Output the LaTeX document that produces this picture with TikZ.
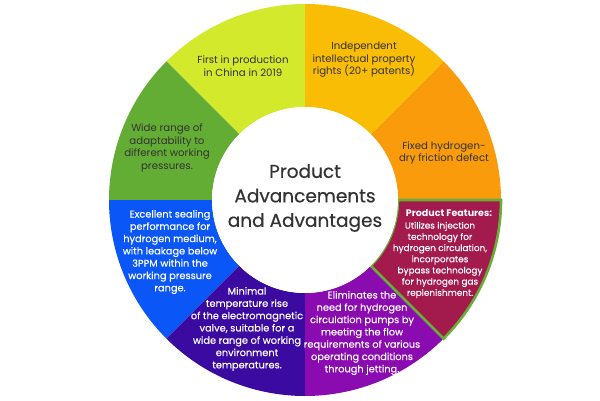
\documentclass[tikz,border=0pt]{standalone}
\usepackage{fontspec}
\setmainfont{Poppins}
\newfontfamily\medfont[FakeBold=0.5]{Poppins}
\newfontfamily\semifont[FakeBold=0.35]{Poppins}
\definecolor{cYG}{HTML}{D3E92C}
\definecolor{cAmb}{HTML}{FABD05}
\definecolor{cOra}{HTML}{F99B0B}
\definecolor{cCri}{HTML}{A31A4C}
\definecolor{cPur}{HTML}{8A0BB0}
\definecolor{cInd}{HTML}{3B0AA0}
\definecolor{cBlu}{HTML}{0A56F7}
\definecolor{cGrn}{HTML}{64AD35}
\definecolor{cBrd}{HTML}{6AAE3A}
\definecolor{cTxt}{HTML}{333333}
\newcommand{\ringseg}[3]{%
  \fill[#3, shift={(305pt,200pt)}] (#1:196pt) arc[start angle=#1, end angle=#2, radius=196pt]
    -- (#2:93pt) arc[start angle=#2, end angle=#1, radius=93pt] -- cycle;}
\begin{document}
\begin{tikzpicture}[x=1pt,y=1pt,
  darktxt/.style={align=center, text=cTxt, font=\fontsize{10.2}{12.5}\selectfont, inner sep=0pt},
  lighttxt/.style={align=center, text=white, font=\semifont\fontsize{9.8}{12.3}\selectfont, inner sep=0pt},
  title/.style={align=center, text=cTxt, font=\medfont\fontsize{18.5}{24.5}\selectfont, inner sep=0pt}]
\useasboundingbox (0,0) rectangle (600,400);
\ringseg{90}{135}{cYG}
\ringseg{135}{180}{cGrn}
\ringseg{180}{225}{cBlu}
\ringseg{225}{270}{cInd}
\ringseg{270}{315}{cPur}
\ringseg{0}{45}{cOra}
\ringseg{45}{90}{cAmb}
\ringseg{-45}{0}{cCri}
\draw[cBrd, line width=2.6pt, line join=miter, shift={(305pt,200pt)}] (-45:196pt) arc[start angle=-45, end angle=0, radius=196pt]
    -- (0:93pt) arc[start angle=0, end angle=-45, radius=93pt] -- cycle;
\fill[white] (305,200) circle[radius=93pt];
\node[title] (t) at (305,202) {Product\\Advancements\\and Advantages};
\node[darktxt] (s1) at (243,334) {First in production\\in China in 2019};
\node[darktxt] (s2) at (167,252) {Wide range of\\adaptability to\\different working\\pressures.};
\node[darktxt] (s3) at (364,340) {Independent\\intellectual property\\rights (20+ patents)};
\node[darktxt] (s4) at (444,247) {Fixed hydrogen-\\dry friction defect};
\node[lighttxt] (s5) at (170,148) {Excellent sealing\\performance for\\hydrogen medium,\\with leakage below\\3PPM within the\\working pressure\\range.};
\node[lighttxt] (s6) at (247,71) {Minimal\\temperature rise\\of the electromagnetic\\valve, suitable for a\\wide range of working\\environment\\temperatures.};
\node[lighttxt] (s7) at (362,67) {Eliminates the\\need for hydrogen\\circulation pumps by\\meeting the flow\\requirements of various\\operating conditions\\through jetting.};
\node[lighttxt, font=\fontsize{9.5}{12}\selectfont\bfseries] (s8h) at (449,187) {Product Features:};
\node[lighttxt, font=\semifont\fontsize{8.9}{11.2}\selectfont] (s8) at (440,140) {Utilizes injection\\technology for\\hydrogen circulation,\\incorporates\\bypass technology\\for hydrogen gas\\replenishment.};
\end{tikzpicture}
\end{document}
